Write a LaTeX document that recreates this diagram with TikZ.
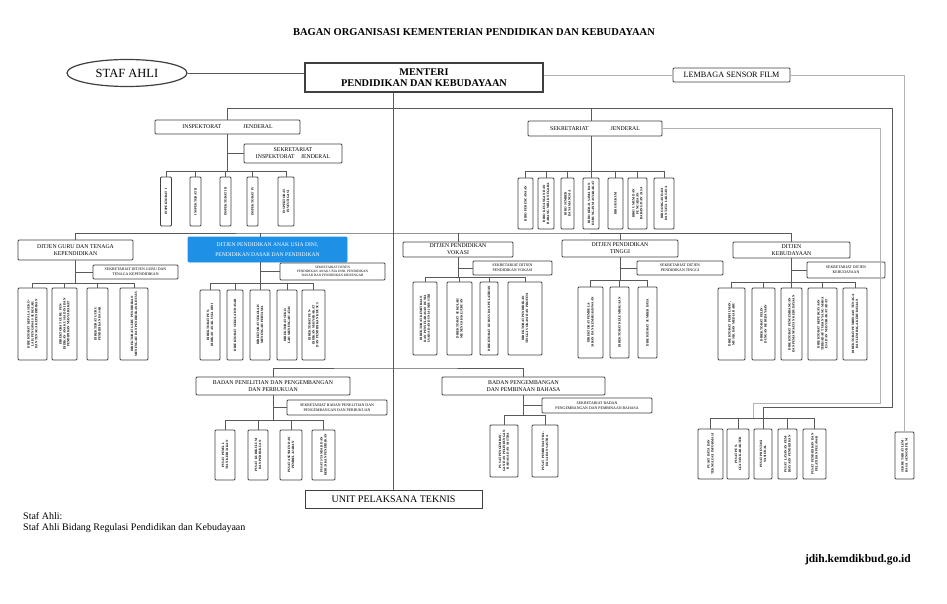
\documentclass[tikz,border=0pt]{standalone}
\usepackage{fontspec}
\setmainfont{Liberation Serif}
\usepackage{tikz}
\usetikzlibrary{shapes.geometric, positioning}
\definecolor{paudblue}{RGB}{30,144,230}

\begin{document}
\begin{tikzpicture}[x=1pt, y=-1pt,
  every node/.style={inner sep=1pt, align=center},
  unit/.style={draw=black!75, line width=0.9pt, rounded corners=1pt, fill=white, font=\fontsize{5.8}{6.8}\selectfont},
  sek/.style={unit, font=\fontsize{3.9}{4.7}\selectfont},
  dir/.style={draw=black!75, line width=0.9pt, rounded corners=1pt, fill=white, rotate=90, inner sep=0.5pt, font=\fontsize{3.3}{3.9}\selectfont\bfseries},
  link/.style={draw=black!65, line width=0.8pt},
  ghost/.style={draw=black!30, line width=0.8pt},
]
  \useasboundingbox[fill=white] (0,0) rectangle (947,604);

  \node[font=\fontsize{10.5}{12}\selectfont\bfseries] (judul) at (474,32) {BAGAN ORGANISASI KEMENTERIAN PENDIDIKAN DAN KEBUDAYAAN};

  % pimpinan
  \node[draw=black!75, line width=1.2pt, fill=white, minimum width=238, minimum height=29, font=\fontsize{10.3}{11.5}\selectfont\bfseries] (menteri) at (424,77.5) {MENTERI\\PENDIDIKAN DAN KEBUDAYAAN};
  \node[ellipse, draw=black!75, line width=1.2pt, minimum width=120, minimum height=27, font=\fontsize{12.5}{14}\selectfont] (staf) at (127,73) {STAF AHLI};
  \node[unit, minimum width=117, minimum height=14, font=\fontsize{8.2}{9}\selectfont] (lsf) at (731.5,75) {LEMBAGA SENSOR FILM};
  \node[unit, rounded corners=0pt, minimum width=177, minimum height=18, font=\fontsize{10}{11}\selectfont] (upt) at (393.5,499) {UNIT PELAKSANA TEKNIS};
  \node[dir, minimum width=47, minimum height=19, text width=42pt] (seklsf) at (904.5,455.5) {SEKRETARIAT LEMBAGA SENSOR FILM};

  \coordinate (hub) at (393,108);
  \coordinate (hubR) at (892,108);
  \coordinate (dbus) at (393,233);
  \coordinate (bbus) at (393,368);
  \coordinate (pbend) at (763,407);
  \coordinate (gbend) at (880,403);
  \coordinate (gfoot) at (753,418);

  % inspektorat jenderal
  \node[unit, minimum width=145, minimum height=14] (itjen) at (227.5,127) {INSPEKTORAT\hspace{22pt}JENDERAL};
  \node[unit, minimum width=98, minimum height=19] (sekij) at (293,153.5) {SEKRETARIAT\\INSPEKTORAT\hspace{6pt}JENDERAL};
  \foreach \cx/\w/\lbl [count=\k] in {166/11/INSPEKTORAT I, 195.5/11/INSPEKTORAT II, 225.5/11/INSPEKTORAT III, 252.5/11/INSPEKTORAT IV, 286/16/INSPEKTORAT INVESTIGASI}{
    \node[dir, minimum width=49, minimum height=\w, text width=44pt] (ij\k) at (\cx,201.5) {\lbl};
    \draw[link] (ij\k.east) -- (ij\k.east |- 0,171);
  }
  \draw[link] (ij1.east |- 0,171) -- (ij5.east |- 0,171);
  \draw[link] (itjen.south) -- (itjen.south |- 0,171);
  \draw[link] (sekij.west) -- (sekij.west -| itjen.south);

  % sekretariat jenderal
  \node[unit, minimum width=134, minimum height=15] (setjen) at (595,128.5) {SEKRETARIAT\hspace{22pt}JENDERAL};
  \foreach \cx/\w/\lbl [count=\k] in {525.5/15/BIRO PERENCANAAN, 546/16/BIRO KEUANGAN DAN BARANG MILIK NEGARA, 567.5/13/BIRO SUMBER DAYA MANUSIA, 591/16/BIRO KERJA SAMA DAN HUBUNGAN MASYARAKAT, 615.5/15/BIRO HUKUM, 637.5/19/BIRO UMUM DAN PENGADAAN BARANG DAN JASA, 664/20/BIRO ORGANISASI DAN TATA LAKSANA}{
    \node[dir, minimum width=51, minimum height=\w, text width=46pt] (sj\k) at (\cx,203.5) {\lbl};
    \draw[link] (sj\k.east) -- (sj\k.east |- 0,171);
  }
  \draw[link] (sj1.east |- 0,171) -- (sj7.east |- 0,171);
  \draw[link] (sj4.east |- setjen.south) -- (sj4.east |- 0,171);

  % ditjen guru dan tenaga kependidikan
  \node[unit, minimum width=115, minimum height=20] (gtk) at (75.5,250) {DITJEN GURU DAN TENAGA\\KEPENDIDIKAN};
  \node[sek, minimum width=85, minimum height=14] (sekgtk) at (135.5,272) {SEKRETARIAT DITJEN GURU DAN\\TENAGA KEPENDIDIKAN};
  \foreach \cx/\w/\lbl [count=\k] in {32.5/29/{DIREKTORAT KEPALA SEKOLAH, PENGAWAS SEKOLAH DAN TENAGA KEPENDIDIKAN}, 64.5/25/DIREKTORAT GURU PENDIDIKAN ANAK USIA DINI DAN PENDIDIKAN MASYARAKAT, 97.5/21/DIREKTORAT GURU PENDIDIKAN DASAR, 134/28/DIREKTORAT GURU PENDIDIKAN MENENGAH DAN PENDIDIKAN KHUSUS}{
    \node[dir, minimum width=72, minimum height=\w, text width=66pt] (gt\k) at (\cx,324) {\lbl};
    \draw[link] (gt\k.east) -- (gt\k.east |- 0,283);
  }
  \draw[link] (gt1.east |- 0,283) -- (gt4.east |- 0,283);
  \draw[link] (gtk.south) -- (gtk.south |- 0,283);
  \draw[link] (sekgtk.west) -- (sekgtk.west -| gtk.south);

  % ditjen paud dasmen
  \node[unit, fill=paudblue, draw=paudblue, text=white, minimum width=159, minimum height=25, font=\fontsize{5.6}{10.5}\selectfont] (paud) at (267.5,249.5) {DITJEN PENDIDIKAN ANAK USIA DINI,\\PENDIDIKAN DASAR DAN PENDIDIKAN};
  \node[sek, minimum width=105, minimum height=17, font=\fontsize{3.4}{4.1}\selectfont] (sekpd) at (332.5,271.5) {SEKRETARIAT DITJEN\\PENDIDIKAN ANAK USIA DINI, PENDIDIKAN\\DASAR DAN PENDIDIKAN MENENGAH};
  \foreach \cx/\w/\lbl [count=\k] in {210/20/DIREKTORAT PENDIDIKAN ANAK USIA DINI, 235/16/DIREKTORAT SEKOLAH DASAR, 260/20/DIREKTORAT SEKOLAH MENENGAH PERTAMA, 287/20/DIREKTORAT SEKOLAH MENENGAH ATAS, 313.5/23/DIREKTORAT PENDIDIKAN MASYARAKAT DAN PENDIDIKAN KHUSUS}{
    \node[dir, minimum width=70, minimum height=\w, text width=64pt] (pd\k) at (\cx,325) {\lbl};
    \draw[link] (pd\k.east) -- (pd\k.east |- 0,283);
  }
  \draw[link] (pd1.east |- 0,283) -- (pd5.east |- 0,283);
  \draw[link] (pd3.east |- paud.south) -- (pd3.east |- 0,283);
  \draw[link] (sekpd.west) -- (sekpd.west -| pd3.east);

  % ditjen vokasi
  \node[unit, minimum width=110, minimum height=15] (vokasi) at (458,249.5) {DITJEN PENDIDIKAN\\VOKASI};
  \node[sek, minimum width=79, minimum height=14] (sekvk) at (512.5,268) {SEKRETARIAT DITJEN\\PENDIDIKAN VOKASI};
  \foreach \cx/\w/\lbl [count=\k] in {425/24/DIREKTORAT KEMITRAAN DAN PENYELARASAN DUNIA USAHA DAN DUNIA INDUSTRI, 459.5/25/DIREKTORAT SEKOLAH MENENGAH KEJURUAN, 489/18/DIREKTORAT KURSUS DAN PELATIHAN, 525/34/DIREKTORAT PENDIDIKAN TINGGI VOKASI DAN PROFESI}{
    \node[dir, minimum width=73, minimum height=\w, text width=67pt] (vk\k) at (\cx,318.5) {\lbl};
    \draw[link] (vk\k.east) -- (vk\k.east |- 0,277);
  }
  \draw[link] (vk1.east |- 0,277) -- (vk4.east |- 0,277);
  \draw[link] (vokasi.south) -- (vokasi.south |- 0,277);
  \draw[link] (sekvk.west) -- (sekvk.west -| vokasi.south);

  % ditjen pendidikan tinggi
  \node[unit, minimum width=116, minimum height=17] (dikti) at (620,248.5) {DITJEN PENDIDIKAN\\TINGGI};
  \node[sek, minimum width=86, minimum height=14] (sekdt) at (680,268) {SEKRETARIAT DITJEN\\PENDIDIKAN TINGGI};
  \foreach \cx/\w/\lbl [count=\k] in {590.5/25/DIREKTORAT PEMBELAJARAN DAN KEMAHASISWAAN, 619.5/19/DIREKTORAT KELEMBAGAAN, 647.5/19/DIREKTORAT SUMBER DAYA}{
    \node[dir, minimum width=71, minimum height=\w, text width=65pt] (dt\k) at (\cx,322.5) {\lbl};
    \draw[link] (dt\k.east) -- (dt\k.east |- 0,280);
  }
  \draw[link] (dt1.east |- 0,280) -- (dt3.east |- 0,280);
  \draw[link] (dikti.south) -- (dikti.south |- 0,280);
  \draw[link] (sekdt.west) -- (sekdt.west -| dikti.south);

  % ditjen kebudayaan
  \node[unit, minimum width=117, minimum height=16] (kbd) at (791.5,250) {DITJEN\\KEBUDAYAAN};
  \node[sek, minimum width=78, minimum height=16] (sekkb) at (846,270) {SEKRETARIAT DITJEN\\KEBUDAYAAN};
  \foreach \cx/\w/\lbl [count=\k] in {731.5/27/{DIREKTORAT PERFILMAN, MUSIK DAN MEDIA BARU}, 763.5/23/DIREKTORAT PELINDUNGAN KEBUDAYAAN, 791.5/21/DIREKTORAT PENGEMBANGAN DAN PEMANFAATAN KEBUDAYAAN, 822.5/29/DIREKTORAT KEPERCAYAAN TERHADAP TUHAN YANG MAHA ESA DAN MASYARAKAT ADAT, 855/24/DIREKTORAT PEMBINAAN TENAGA DAN LEMBAGA KEBUDAYAAN}{
    \node[dir, minimum width=72, minimum height=\w, text width=66pt] (kb\k) at (\cx,324) {\lbl};
    \draw[link] (kb\k.east) -- (kb\k.east |- 0,282);
  }
  \draw[link] (kb1.east |- 0,282) -- (kb5.east |- 0,282);
  \draw[link] (kbd.south) -- (kbd.south |- 0,282);
  \draw[link] (sekkb.west) -- (sekkb.west -| kbd.south);

  % badan penelitian dan pengembangan dan perbukuan
  \node[unit, minimum width=154, minimum height=18] (balit) at (273,386) {BADAN PENELITIAN DAN PENGEMBANGAN\\DAN PERBUKUAN};
  \node[sek, minimum width=100, minimum height=15] (sekbl) at (337,407.5) {SEKRETARIAT BADAN PENELITIAN DAN\\PENGEMBANGAN DAN PERBUKUAN};
  \foreach \cx/\w/\lbl [count=\k] in {225/20/PUSAT PENELITIAN KEBIJAKAN, 258/20/PUSAT KURIKULUM DAN PERBUKUAN, 291/22/PUSAT ASESMEN DAN PEMBELAJARAN, 323.5/23/PUSAT STANDAR DAN KEBIJAKAN PENDIDIKAN}{
    \node[dir, minimum width=50, minimum height=\w, text width=45pt] (bl\k) at (\cx,455) {\lbl};
    \draw[link] (bl\k.east) -- (bl\k.east |- 0,420);
  }
  \draw[link] (bl1.east |- 0,420) -- (bl4.east |- 0,420);
  \draw[link] (balit.south) -- (balit.south |- 0,420);
  \draw[link] (sekbl.west) -- (sekbl.west -| balit.south);

  % badan bahasa
  \node[unit, minimum width=163, minimum height=18] (bahasa) at (523.5,386) {BADAN PENGEMBANGAN\\DAN PEMBINAAN BAHASA};
  \node[sek, minimum width=110, minimum height=15] (sekbh) at (597,405.5) {SEKRETARIAT BADAN\\PENGEMBANGAN DAN PEMBINAAN BAHASA};
  \foreach \cx/\w/\lbl [count=\k] in {504/28/PUSAT PENGEMBANGAN DAN PELINDUNGAN BAHASA DAN SASTRA, 545/26/PUSAT PEMBINAAN BAHASA DAN SASTRA}{
    \node[dir, minimum width=52, minimum height=\w, text width=47pt] (bh\k) at (\cx,451) {\lbl};
    \draw[link] (bh\k.east) -- (bh\k.east |- 0,415);
  }
  \draw[link] (bh1.east |- 0,415) -- (bh2.east |- 0,415);
  \draw[link] (bahasa.south) -- (bahasa.south |- 0,415);
  \draw[link] (sekbh.west) -- (sekbh.west -| bahasa.south);

  % pusat
  \foreach \cx/\w/\lbl [count=\k] in {710.5/25/PUSAT DATA DAN TEKNOLOGI INFORMASI, 738/22/PUSAT PENGUATAN KARAKTER, 763/18/PUSAT PRESTASI NASIONAL, 787.5/19/PUSAT LAYANAN PEMBIAYAAN PENDIDIKAN, 814.5/23/PUSAT PENDIDIKAN DAN PELATIHAN PEGAWAI}{
    \node[dir, minimum width=50, minimum height=\w, text width=45pt] (ps\k) at (\cx,454) {\lbl};
    \draw[link] (ps\k.east) -- (ps\k.east |- 0,418);
  }
  \draw[link] (ps1.east |- 0,418) -- (ps5.east |- 0,418);

  % garis penghubung
  \draw[link] (staf.east) -- (staf.east -| menteri.west);
  \draw[ghost] (lsf.west) -- (lsf.west -| menteri.east);
  \draw[ghost] (lsf.east) -| (seklsf.east);
  \draw[ghost] (setjen.east) -| (gbend) -| (gfoot);
  \draw[link] (menteri.south -| upt.north) -- (upt.north);
  \draw[link] (itjen.north) |- (hubR) |- (pbend) -- (ps3.east);
  \draw[link] (sj4.east |- hub) -- (sj4.east |- setjen.north);
  \draw[link] (gtk.north) |- (dbus) -| (kbd.north);
  \draw[link] (pd3.east |- dbus) -- (pd3.east |- paud.north);
  \draw[link] (vokasi.north) -- (vokasi.north |- dbus);
  \draw[link] (dikti.north) -- (dikti.north |- dbus);
  \draw[link] (balit.north) |- (bbus) -| (bahasa.north);

  % catatan
  \node[anchor=west, font=\fontsize{10}{12}\selectfont] (cat1) at (22,516) {Staf Ahli:};
  \node[anchor=west, font=\fontsize{10}{12}\selectfont] (cat2) at (22,528) {Staf Ahli Bidang Regulasi Pendidikan dan Kebudayaan};
  \node[anchor=east, font=\fontsize{11.5}{13}\selectfont\bfseries] (jdih) at (912,560) {jdih.kemdikbud.go.id};
\end{tikzpicture}
\end{document}
